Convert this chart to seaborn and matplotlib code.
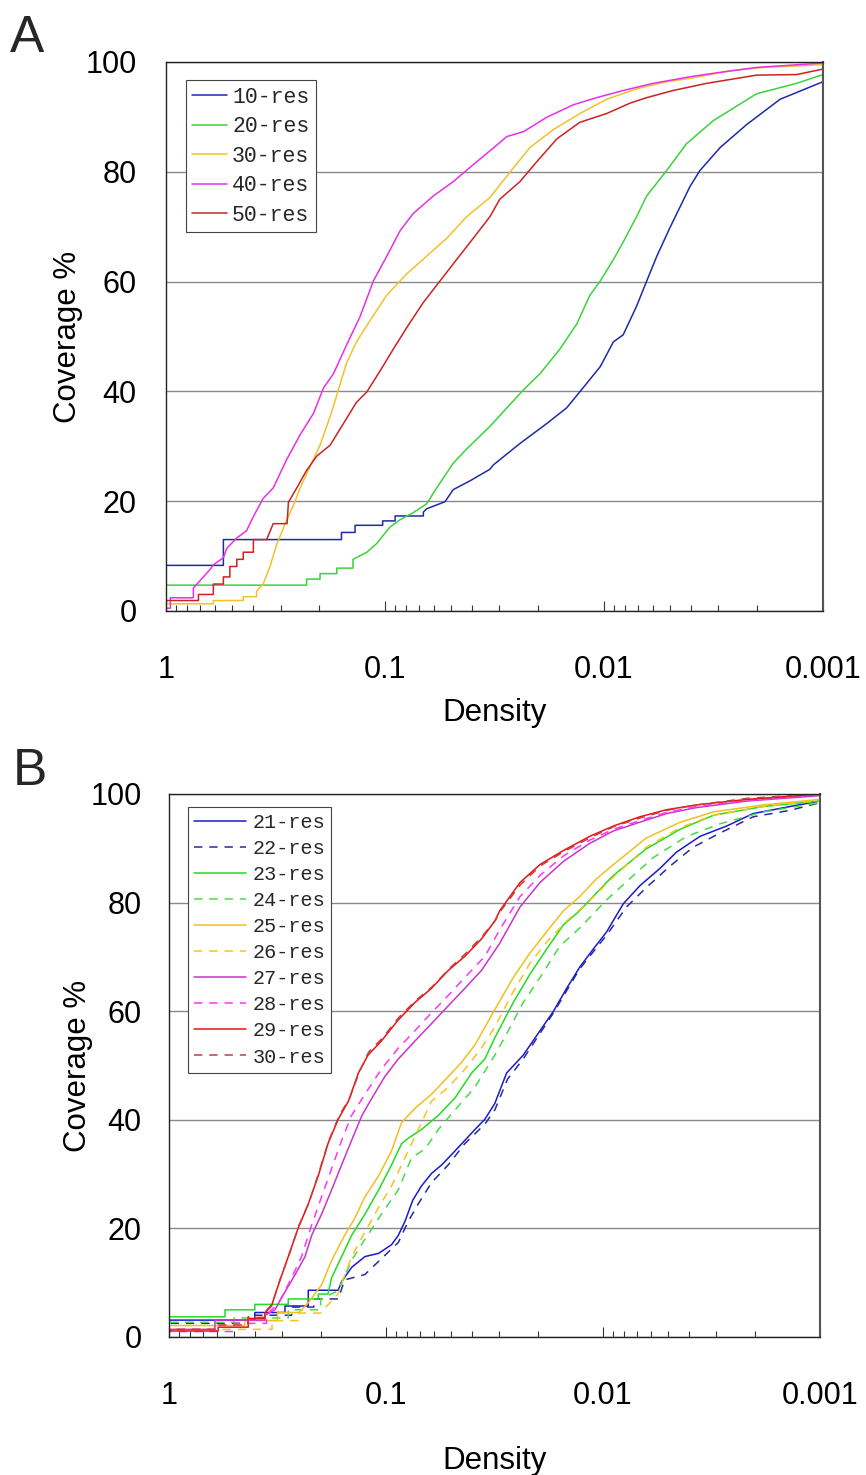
import numpy as np
import pandas as pd
import matplotlib
matplotlib.use('Agg')
import matplotlib.pyplot as plt
import matplotlib.ticker as mticker
import seaborn as sns

# %% Datos (densidad vs cobertura %)

# Panel A
a10_density = [1, 1, 0.547, 0.547, 0.158, 0.158, 0.137, 0.137, 0.1025, 0.1025, 0.0899, 0.0899, 0.0668, 0.0668, 0.0646, 0.0532, 0.0488, 0.0409, 0.0332, 0.032, 0.0242, 0.0183, 0.0148, 0.0129, 0.0104, 0.00906, 0.00817, 0.0071, 0.00638, 0.00574, 0.005, 0.00405, 0.00365, 0.00295, 0.00223, 0.00157, 0.001]
a10_coverage = [4.5, 8.3, 8.3, 13.0, 13.0, 14.3, 14.3, 15.6, 15.6, 16.4, 16.4, 17.3, 17.3, 18.0, 18.6, 19.9, 22.1, 23.7, 25.8, 26.6, 30.5, 34.1, 37.0, 39.9, 44.5, 49.0, 50.3, 55.5, 60.1, 64.6, 69.8, 77.3, 80.2, 84.4, 88.6, 93.2, 96.4]

a20_density = [1, 1, 0.228, 0.228, 0.198, 0.198, 0.166, 0.166, 0.140, 0.140, 0.121, 0.109, 0.0948, 0.0855, 0.0743, 0.0646, 0.0581, 0.0488, 0.0424, 0.0332, 0.0302, 0.0259, 0.0233, 0.0196, 0.0159, 0.0133, 0.0116, 0.0104, 0.00906, 0.00817, 0.0071, 0.00638, 0.00518, 0.0042, 0.00317, 0.00201, 0.00132, 0.001]
a20_coverage = [1.0, 4.7, 4.7, 5.8, 5.8, 6.8, 6.8, 7.8, 7.8, 9.4, 10.7, 12.3, 15.3, 16.6, 17.9, 19.5, 22.4, 26.9, 29.5, 33.6, 35.4, 38.3, 40.3, 43.2, 47.7, 52.3, 57.5, 60.1, 64.0, 67.2, 71.8, 75.6, 80.2, 85.1, 89.3, 94.2, 96.1, 97.7]

a30_density = [1, 1, 0.608, 0.608, 0.444, 0.444, 0.386, 0.386, 0.360, 0.335, 0.313, 0.286, 0.262, 0.244, 0.220, 0.198, 0.178, 0.166, 0.150, 0.135, 0.117, 0.0982, 0.0796, 0.0646, 0.0522, 0.0424, 0.0332, 0.0269, 0.0218, 0.0170, 0.0129, 0.00973, 0.0071, 0.00518, 0.00391, 0.00266, 0.00188, 0.001]
a30_coverage = [0.3, 1.3, 1.3, 1.9, 1.9, 2.6, 2.6, 3.6, 4.9, 8.1, 12.0, 15.9, 19.2, 22.4, 26.3, 30.2, 35.4, 39.3, 45.1, 49.0, 52.9, 57.5, 61.4, 64.6, 67.9, 71.8, 75.3, 79.9, 84.4, 87.7, 90.6, 93.2, 95.1, 96.4, 97.1, 98.4, 99.0, 99.5]

a40_density = [1, 0.955, 0.955, 0.75, 0.75, 0.711, 0.631, 0.608, 0.547, 0.528, 0.475, 0.429, 0.399, 0.36, 0.324, 0.281, 0.244, 0.212, 0.191, 0.172, 0.150, 0.130, 0.113, 0.0982, 0.0855, 0.0743, 0.0601, 0.0488, 0.0409, 0.0332, 0.0278, 0.0233, 0.0183, 0.0138, 0.0108, 0.00817, 0.00596, 0.00391, 0.00295, 0.00201, 0.001]
a40_coverage = [0.5, 0.5, 2.4, 2.4, 4.2, 5.2, 7.5, 8.4, 9.7, 11.4, 13.3, 14.6, 17.2, 20.5, 22.4, 27.6, 32.1, 36.0, 40.6, 43.2, 48.4, 53.6, 60.1, 64.6, 69.2, 72.4, 75.6, 78.2, 80.8, 83.8, 86.4, 87.3, 89.9, 92.2, 93.5, 94.8, 96.1, 97.4, 98.1, 99.0, 99.8]

a50_density = [1, 1, 0.711, 0.711, 0.608, 0.608, 0.547, 0.547, 0.511, 0.511, 0.475, 0.475, 0.444, 0.444, 0.399, 0.399, 0.347, 0.324, 0.280, 0.276, 0.253, 0.228, 0.205, 0.178, 0.155, 0.135, 0.121, 0.105, 0.0916, 0.0796, 0.0668, 0.0561, 0.0471, 0.0395, 0.0332, 0.0299, 0.0242, 0.0203, 0.0164, 0.0129, 0.00973, 0.0076, 0.00638, 0.00483, 0.0034, 0.00201, 0.00132, 0.001]
a50_coverage = [0.5, 1.9, 1.9, 3.0, 3.0, 4.9, 4.9, 6.2, 6.2, 8.1, 8.1, 9.4, 9.4, 10.7, 10.7, 13.0, 13.0, 15.9, 15.9, 19.8, 22.4, 25.6, 28.2, 30.2, 34.1, 38.0, 39.9, 43.8, 47.7, 51.6, 56.2, 60.1, 64.0, 67.9, 71.8, 75.0, 78.2, 81.8, 86.0, 89.0, 90.6, 92.5, 93.5, 94.8, 96.1, 97.6, 97.7, 98.7]

# Panel B
b21_density = [1, 1, 0.402, 0.402, 0.292, 0.292, 0.228, 0.228, 0.166, 0.160, 0.144, 0.125, 0.108, 0.0942, 0.0877, 0.0817, 0.0752, 0.0686, 0.0617, 0.0553, 0.0498, 0.0433, 0.0389, 0.0350, 0.0315, 0.0278, 0.0233, 0.0195, 0.0169, 0.0147, 0.0128, 0.0111, 0.00962, 0.00805, 0.00676, 0.00546, 0.00458, 0.00357, 0.00269, 0.00203, 0.00137, 0.001]
b21_coverage = [0, 3.1, 3.1, 4.5, 4.5, 5.7, 5.7, 8.6, 8.6, 10.2, 12.8, 14.8, 15.4, 17.0, 18.7, 21.3, 25.2, 27.8, 30.1, 31.7, 33.6, 36.2, 38.2, 40.1, 43.0, 48.6, 51.9, 56.4, 60.0, 64.2, 68.1, 71.4, 74.6, 79.8, 83.1, 86.3, 89.3, 92.2, 94.1, 96.4, 97.7, 98.7]

b22_density = [1, 1, 0.431, 0.431, 0.272, 0.272, 0.215, 0.215, 0.166, 0.155, 0.125, 0.0877, 0.0789, 0.0710, 0.0617, 0.0516, 0.0433, 0.0350, 0.0315, 0.0275, 0.0233, 0.0169, 0.0128, 0.00962, 0.00778, 0.00630, 0.00491, 0.00384, 0.00289, 0.00203, 0.00137, 0.001]
b22_coverage = [0, 2.5, 2.5, 4.0, 4.0, 5.5, 5.5, 7.0, 7.0, 10.5, 11.5, 17.4, 21.3, 24.5, 28.4, 31.7, 35.6, 39.2, 41.8, 47.5, 51.2, 59.7, 67.8, 74.0, 79.2, 82.8, 86.7, 90.2, 92.8, 95.8, 97.0, 98.4]

b23_density = [1, 1, 0.552, 0.552, 0.402, 0.402, 0.282, 0.282, 0.205, 0.205, 0.185, 0.178, 0.160, 0.144, 0.125, 0.108, 0.0942, 0.0847, 0.0789, 0.0686, 0.0574, 0.0481, 0.0403, 0.0350, 0.0315, 0.0259, 0.0217, 0.0182, 0.0152, 0.0128, 0.0107, 0.00895, 0.00631, 0.00441, 0.00309, 0.00182, 0.001]
b23_coverage = [0, 3.7, 3.7, 5.0, 5.0, 6.0, 6.0, 7.0, 7.0, 7.9, 7.9, 10.9, 14.8, 18.7, 22.6, 27.1, 31.7, 35.6, 36.6, 38.2, 40.8, 44.0, 48.6, 51.2, 55.1, 61.6, 66.8, 71.4, 75.9, 78.5, 81.8, 85.0, 89.9, 93.5, 96.1, 97.7, 98.7]

b24_density = [1, 1, 0.501, 0.501, 0.282, 0.282, 0.200, 0.200, 0.166, 0.144, 0.125, 0.105, 0.0877, 0.0762, 0.0661, 0.0574, 0.0481, 0.0389, 0.0315, 0.0278, 0.0233, 0.0195, 0.0158, 0.0128, 0.00962, 0.00752, 0.00586, 0.00411, 0.00289, 0.00182, 0.001]
b24_coverage = [0, 2.7, 2.7, 3.5, 3.5, 5.0, 5.0, 7.0, 8.5, 14.1, 18.0, 22.6, 27.1, 33.0, 34.6, 38.2, 41.8, 46.0, 51.9, 55.8, 61.6, 66.2, 72.0, 75.3, 80.5, 84.4, 88.3, 92.2, 94.5, 96.7, 98.4]

b25_density = [1, 1, 0.447, 0.447, 0.316, 0.316, 0.251, 0.228, 0.198, 0.178, 0.155, 0.139, 0.125, 0.108, 0.0942, 0.0847, 0.0735, 0.0617, 0.0535, 0.0448, 0.0389, 0.0315, 0.0259, 0.0217, 0.0182, 0.0152, 0.0128, 0.0107, 0.00895, 0.00631, 0.00441, 0.00309, 0.00182, 0.001]
b25_coverage = [0, 2.1, 2.1, 3.0, 3.0, 4.5, 4.5, 6.3, 9.6, 14.1, 18.7, 21.9, 25.8, 29.7, 34.3, 39.5, 42.1, 44.7, 47.3, 50.6, 53.8, 60.3, 66.2, 70.7, 74.6, 78.5, 81.1, 84.4, 87.0, 91.9, 94.8, 96.7, 98.0, 99.0]

b26_density = [1, 1, 0.335, 0.335, 0.251, 0.251, 0.200, 0.166, 0.144, 0.125, 0.108, 0.0942, 0.0817, 0.0710, 0.0617, 0.0516, 0.0433, 0.0363, 0.0315, 0.0259, 0.0217, 0.0182, 0.0147, 0.0119, 0.00895, 0.00631, 0.00441, 0.00309, 0.00182, 0.001]
b26_coverage = [0, 1.4, 1.4, 3.0, 3.0, 4.4, 4.4, 8.0, 14.8, 19.3, 23.9, 27.8, 33.0, 38.2, 43.4, 46.0, 49.3, 53.2, 57.1, 63.6, 68.8, 72.7, 76.6, 79.8, 84.7, 90.2, 93.8, 96.1, 97.7, 98.8]

b27_density = [1, 1, 0.614, 0.614, 0.361, 0.361, 0.325, 0.292, 0.262, 0.236, 0.220, 0.198, 0.178, 0.160, 0.144, 0.129, 0.116, 0.101, 0.0877, 0.0735, 0.0617, 0.0516, 0.0433, 0.0363, 0.0299, 0.0241, 0.0195, 0.0152, 0.0115, 0.00895, 0.00676, 0.00509, 0.0037, 0.00217, 0.001]
b27_coverage = [0, 1.4, 1.4, 3.1, 3.1, 4.0, 5.0, 8.3, 11.5, 14.8, 18.7, 22.6, 27.1, 31.7, 36.2, 40.8, 44.0, 48.0, 51.2, 54.5, 57.7, 61.0, 64.2, 67.5, 72.5, 79.2, 83.7, 87.6, 90.9, 93.2, 94.8, 96.4, 97.5, 98.7, 99.7]

b28_density = [1, 1, 0.501, 0.501, 0.355, 0.355, 0.310, 0.272, 0.245, 0.220, 0.198, 0.178, 0.160, 0.144, 0.125, 0.105, 0.0877, 0.0735, 0.0617, 0.0516, 0.0433, 0.0350, 0.0299, 0.0241, 0.0195, 0.0152, 0.0115, 0.00895, 0.00676, 0.00509, 0.0037, 0.00217, 0.001]
b28_coverage = [0, 1.0, 1.0, 2.5, 2.5, 4.0, 6.5, 10.9, 14.8, 20.6, 25.8, 31.0, 36.2, 40.8, 44.7, 49.3, 53.2, 56.4, 59.7, 62.9, 66.2, 70.1, 75.0, 81.1, 85.0, 88.6, 91.5, 93.5, 95.1, 96.6, 97.7, 98.8, 99.9]

b29_density = [1, 1, 0.593, 0.593, 0.431, 0.431, 0.361, 0.361, 0.337, 0.313, 0.282, 0.254, 0.228, 0.205, 0.185, 0.166, 0.149, 0.134, 0.121, 0.105, 0.0877, 0.0735, 0.0617, 0.0516, 0.0433, 0.0363, 0.0315, 0.0299, 0.0241, 0.0195, 0.0152, 0.0115, 0.00895, 0.00676, 0.00509, 0.0037, 0.00217, 0.001]
b29_coverage = [0, 1.1, 1.1, 1.8, 1.8, 3.4, 3.4, 4.4, 5.7, 9.6, 14.8, 20.0, 24.5, 29.7, 35.6, 40.1, 43.4, 48.6, 51.9, 54.5, 58.4, 61.6, 64.2, 67.5, 70.1, 73.3, 76.6, 78.5, 83.7, 87.0, 89.6, 92.2, 94.1, 95.8, 97.1, 98.0, 99.0, 100.0]

b30_density = [1, 1, 0.593, 0.593, 0.431, 0.431, 0.361, 0.361, 0.335, 0.310, 0.280, 0.252, 0.226, 0.203, 0.184, 0.164, 0.147, 0.132, 0.120, 0.104, 0.0870, 0.0728, 0.0612, 0.0512, 0.0430, 0.0360, 0.0312, 0.0297, 0.0240, 0.0194, 0.0151, 0.0114, 0.00890, 0.00672, 0.00506, 0.00368, 0.00216, 0.001]
b30_coverage = [0, 1.4, 1.4, 2.2, 2.2, 3.6, 3.6, 4.6, 6.0, 10.2, 15.0, 20.5, 24.8, 30.5, 36.0, 40.8, 44.0, 49.0, 52.5, 55.0, 58.9, 62.0, 64.5, 67.8, 70.6, 73.8, 76.8, 78.4, 83.3, 86.8, 89.4, 92.0, 94.0, 95.6, 97.0, 98.0, 99.2, 100.0]

# Ejes
density_ticks = [1, 0.1, 0.01, 0.001]
density_labels = ['1', '0.1', '0.01', '0.001']
coverage_ticks = [0, 20, 40, 60, 80, 100]

# %% Estilo general

sns.set_theme(style='white')
plt.rcParams['font.family'] = ['Liberation Sans', 'DejaVu Sans']
plt.rcParams['lines.scale_dashes'] = False

DASH = (0, (6, 5))


def dibujar_serie(ax, dens, cov, color, estilo='-'):
    df = pd.DataFrame({'Density': dens, 'Coverage': cov})
    sns.lineplot(data=df, x='Density', y='Coverage', sort=False, estimator=None,
                 color=color, linestyle=estilo, linewidth=1.1, legend=False, ax=ax)
    return ax.get_lines()[-1]


def formato_eje(ax, ytick_pad, xtick_pad, ylabel_pad, xlabel_pad):
    ax.set_xlim(1, 0.001)
    ax.set_ylim(0, 100)
    ax.xaxis.set_major_locator(mticker.FixedLocator(density_ticks))
    ax.xaxis.set_major_formatter(mticker.FixedFormatter(density_labels))
    ax.xaxis.set_minor_locator(mticker.LogLocator(base=10, subs=np.arange(2, 10)))
    ax.xaxis.set_minor_formatter(mticker.NullFormatter())
    ax.set_yticks(coverage_ticks)
    ax.set_yticklabels([str(v) for v in coverage_ticks])
    ax.tick_params(axis='x', which='major', direction='in', length=7, width=0.8,
                   pad=xtick_pad, labelsize=22, color='#333333', bottom=True, top=False)
    ax.tick_params(axis='x', which='minor', direction='in', length=4.5, width=0.8,
                   color='#333333', bottom=True, top=False)
    ax.tick_params(axis='y', length=0, pad=ytick_pad, labelsize=22, left=False)
    ax.yaxis.grid(True, color='#8a8a8a', linewidth=1.0)
    ax.xaxis.grid(False)
    ax.set_axisbelow(True)
    for s in ax.spines.values():
        s.set_color('#222222')
        s.set_linewidth(1.0)
    ax.spines['right'].set_color('#555555')
    ax.spines['right'].set_linewidth(1.5)
    ax.set_xlabel('Density', fontsize=22.5, labelpad=xlabel_pad, color='black')
    ax.set_ylabel('Coverage %', fontsize=22.5, labelpad=ylabel_pad, color='black')
    for lab in ax.get_xticklabels() + ax.get_yticklabels():
        lab.set_color('black')


fig = plt.figure(figsize=(8.66, 14.75), dpi=100)
ax_a = fig.add_axes([0.1917, 0.5858, 0.7586, 0.3722])
ax_b = fig.add_axes([0.1951, 0.0936, 0.7517, 0.3681])
for ax in (ax_a, ax_b):
    ax.set_xscale('log')

# %% Panel A
series_a = [
    (a10_density, a10_coverage, '#1f2aa8', '-', '10-res'),
    (a20_density, a20_coverage, '#3ad43a', '-', '20-res'),
    (a30_density, a30_coverage, '#f0c22e', '-', '30-res'),
    (a40_density, a40_coverage, '#e830e8', '-', '40-res'),
    (a50_density, a50_coverage, '#cc2222', '-', '50-res'),
]
handles_a = []
for dens, cov, color, estilo, nombre in series_a:
    handles_a.append(dibujar_serie(ax_a, dens, cov, color, estilo))
formato_eje(ax_a, ytick_pad=21, xtick_pad=32, ylabel_pad=2, xlabel_pad=9)
leg_a = ax_a.legend(handles_a, [s[4] for s in series_a], loc='upper left',
                    bbox_to_anchor=(0.030, 0.967), borderaxespad=0,
                    prop={'family': 'Liberation Mono', 'size': 15.5},
                    handlelength=1.6, handletextpad=0.25, labelspacing=0.4,
                    borderpad=0.3, frameon=True, fancybox=False,
                    edgecolor='#444444', framealpha=1)
leg_a.get_frame().set_linewidth(0.8)

# %% Panel B
series_b = [
    (b21_density, b21_coverage, '#1a1ad2', '-', '21-res'),
    (b22_density, b22_coverage, '#2a2aa0', DASH, '22-res'),
    (b23_density, b23_coverage, '#22dd22', '-', '23-res'),
    (b24_density, b24_coverage, '#44dd44', DASH, '24-res'),
    (b25_density, b25_coverage, '#f0c020', '-', '25-res'),
    (b26_density, b26_coverage, '#f5c518', DASH, '26-res'),
    (b27_density, b27_coverage, '#cc33cc', '-', '27-res'),
    (b28_density, b28_coverage, '#ff33ff', DASH, '28-res'),
    (b29_density, b29_coverage, '#ee1111', '-', '29-res'),
    (b30_density, b30_coverage, '#c83c3c', DASH, '30-res'),
]
handles_b = []
for dens, cov, color, estilo, nombre in series_b:
    handles_b.append(dibujar_serie(ax_b, dens, cov, color, estilo))
formato_eje(ax_b, ytick_pad=19.5, xtick_pad=32, ylabel_pad=-1.5, xlabel_pad=25)
leg_b = ax_b.legend(handles_b, [s[4] for s in series_b], loc='upper left',
                    bbox_to_anchor=(0.029, 0.976), borderaxespad=0,
                    prop={'family': 'Liberation Mono', 'size': 14.5},
                    handlelength=2.6, handletextpad=0.3, labelspacing=0.35,
                    borderpad=0.3, frameon=True, fancybox=False,
                    edgecolor='#444444', framealpha=1)
leg_b.get_frame().set_linewidth(0.8)

# Letras de los paneles
fig.text(0.0115, 0.9647, 'A', fontsize=37, ha='left', va='baseline')
fig.text(0.015, 0.4678, 'B', fontsize=37, ha='left', va='baseline')

fig.savefig('out.png', dpi=100)
